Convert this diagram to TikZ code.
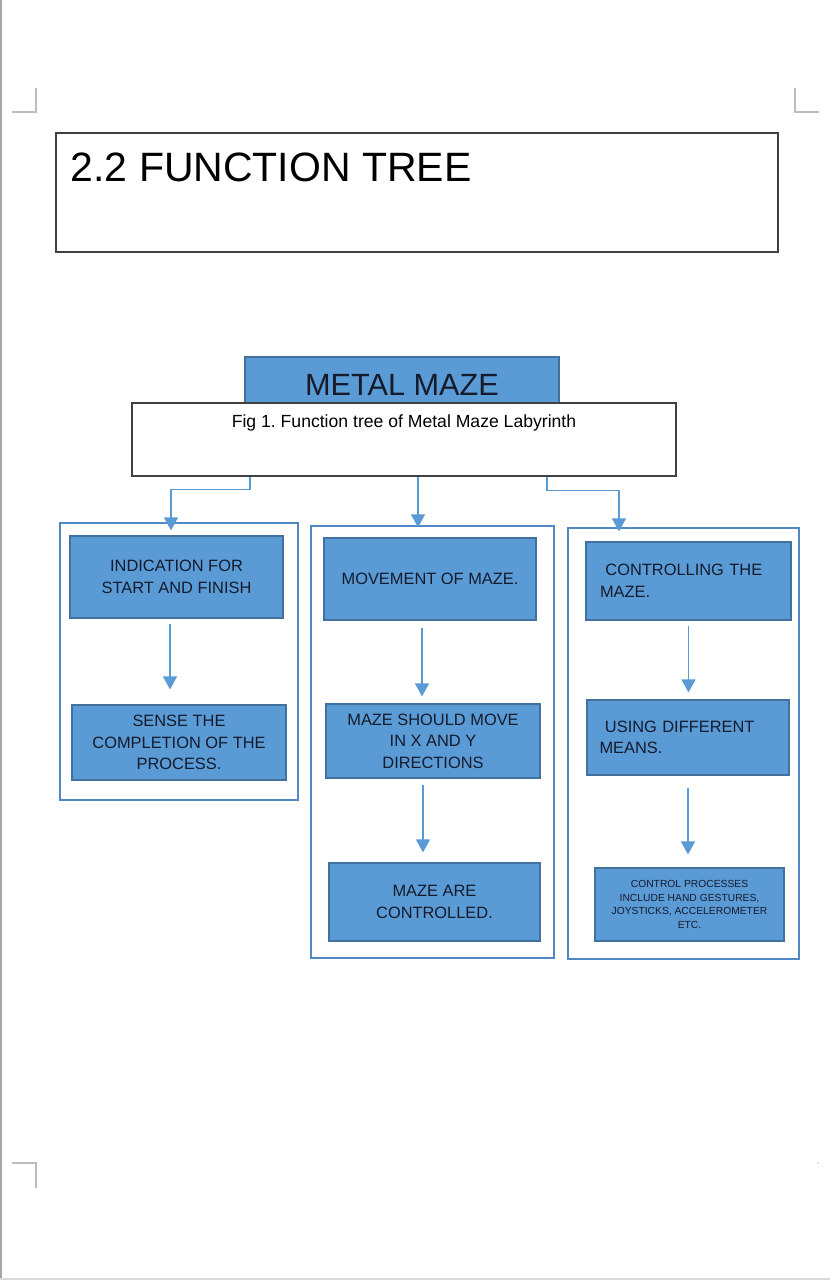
\documentclass[tikz,border=0pt]{standalone}
\usepackage{fontspec}
\setmainfont{Liberation Sans}
\usetikzlibrary{arrows.meta}
\definecolor{mazeblue}{HTML}{5B9BD5}
\definecolor{mazeedge}{HTML}{41719C}
\definecolor{coledge}{HTML}{5189C6}
\definecolor{boxtext}{HTML}{141B2D}
\definecolor{pageline}{HTML}{BDBDBD}
\frenchspacing

\begin{document}
\begin{tikzpicture}[x=1pt, y=-1pt,
  fn/.style={draw=mazeedge, fill=mazeblue, line width=1.2pt, inner sep=0pt,
    align=center, text=boxtext, font=\fontsize{16.4}{21.5}\selectfont},
  fnleft/.style={fn, align=left, text width=177pt},
  colbox/.style={draw=coledge, line width=2pt, fill=white, inner sep=0pt},
  headbox/.style={draw=black!75, line width=1.4pt, fill=white, inner sep=0pt},
  flow/.style={draw=mazeblue, line width=1.3pt, -{Triangle[width=14pt,length=13pt]}},
  pagemark/.style={draw=pageline, line width=1.2pt}]
  \useasboundingbox (0,0) rectangle (830,1280);

  % page edges and corner marks
  \draw[draw=black!35, line width=1.5pt] (0.75,0) -- (0.75,1280);
  \draw[draw=black!15, line width=1.5pt] (0,1279) -- (830,1279);
  \draw[pagemark] (12,112) -- (36,112) -- (36,88);
  \draw[pagemark] (795,88) -- (795,112) -- (819,112);
  \draw[pagemark] (12,1163) -- (36,1163) -- (36,1188);
  \fill[pageline] (818,1163) circle (0.8);

  \node[headbox, minimum width=722pt, minimum height=119pt] (titlebox) at (417,192.5) {};
  \node[anchor=base west, inner sep=0pt, font=\fontsize{41}{48}\selectfont] (titletext) at (70.5,181.7) {2.2 FUNCTION TREE};

  \node[fn, minimum width=314pt, minimum height=46pt] (mazebox) at (402,380) {};
  \node[anchor=base, inner sep=0pt, text=boxtext, font=\fontsize{30.7}{36}\selectfont] (mazetext) at (402,395) {METAL MAZE};
  \node[headbox, minimum width=544pt, minimum height=73pt] (capbox) at (404,439.5) {};
  \node[anchor=base, inner sep=0pt, font=\fontsize{17.6}{20}\selectfont] (captext) at (404,427) {Fig 1. Function tree of Metal Maze Labyrinth};

  % columns
  \node[colbox, minimum width=238pt, minimum height=277pt] (colA) at (179,661.5) {};
  \node[colbox, minimum width=243pt, minimum height=432pt] (colB) at (432.5,742) {};
  \node[colbox, minimum width=231pt, minimum height=431pt] (colC) at (683.5,743.5) {};

  \node[fn, minimum width=213pt, minimum height=82pt] (ind) at (176.5,577) {INDICATION FOR\\START AND FINISH};
  \node[fn, minimum width=214pt, minimum height=75pt] (sense) at (179,742.5) {SENSE THE\\COMPLETION OF THE\\PROCESS.};

  \node[fn, minimum width=212pt, minimum height=82pt] (mov) at (430,579) {MOVEMENT OF MAZE.};
  \node[fn, minimum width=214pt, minimum height=74pt] (xy) at (433,741) {MAZE SHOULD MOVE\\IN X AND Y\\DIRECTIONS};
  \node[fn, minimum width=211pt, minimum height=78pt] (ctrl) at (434.5,902) {MAZE ARE\\CONTROLLED.};

  \node[fnleft, minimum width=205pt, minimum height=78pt] (cmaze) at (688.5,581) {\ CONTROLLING THE\\MAZE.};
  \node[fnleft, minimum width=202pt, minimum height=75pt] (means) at (688,737.5) {\ USING DIFFERENT\\MEANS.};
  \node[fn, minimum width=189pt, minimum height=73pt, font=\fontsize{10.3}{13.7}\selectfont] (proc) at (689.5,904.5)
    {CONTROL PROCESSES\\INCLUDE HAND GESTURES,\\JOYSTICKS, ACCELEROMETER\\ETC.};

  % connectors
  \draw[flow, shorten >=5pt] ([xshift=-154pt]capbox.south) -- ++(0,13) -| ([xshift=-5.5pt]ind.north);
  \draw[flow, shorten >=10pt] ([xshift=14pt]capbox.south) -- ([xshift=-12pt]mov.north);
  \draw[flow, shorten >=10pt] ([xshift=143pt]capbox.south) -- ++(0,14) -| ([xshift=-69.5pt]cmaze.north);

  \draw[flow, shorten <=5pt, shorten >=15pt] ([xshift=-6.5pt]ind.south) -- ([xshift=-6.5pt]ind.south |- sense.north);
  \draw[flow, shorten <=7pt, shorten >=7pt] ([xshift=-8pt]mov.south) -- ([xshift=-8pt]mov.south |- xy.north);
  \draw[flow, shorten <=6pt, shorten >=10pt] ([xshift=-10pt]xy.south) -- ([xshift=-10pt]xy.south |- ctrl.north);
  \draw[flow, shorten <=5pt, shorten >=7pt] (cmaze.south) -- (cmaze.south |- means.north);
  \draw[flow, shorten <=12pt, shorten >=13pt] (means.south) -- (means.south |- proc.north);
\end{tikzpicture}
\end{document}
